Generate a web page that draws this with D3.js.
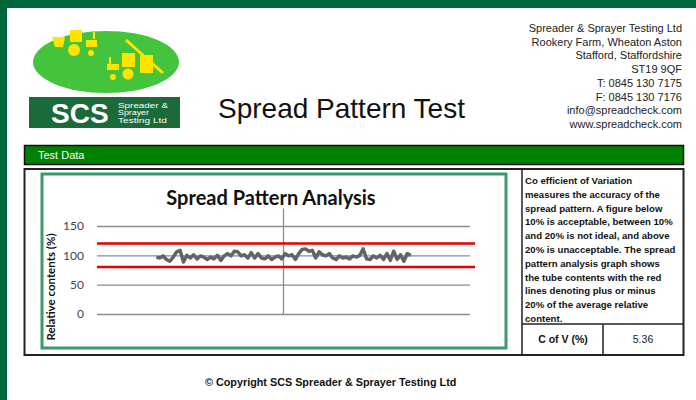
<!DOCTYPE html>
<html>
<head>
<meta charset="utf-8">
<script src="https://cdn.jsdelivr.net/npm/d3@7"></script>
<style>
  body { margin: 0; background: #fff; }
  svg { display: block; }
</style>
</head>
<body>
<svg width="696" height="400"></svg>
<script>
// relative tube contents (%), left to right
var contents = [97, 95.5, 99, 93, 90, 97, 106, 108.5, 88.6, 100, 95.5, 101, 94, 99, 97, 93, 97, 94, 100, 91.5,
  99, 103, 99, 107, 106, 99, 101, 95.5, 104.5, 95.5, 103, 95.5, 94, 99, 93, 97,
  99, 94, 103, 99, 101, 93, 103, 110, 111, 107, 108.5, 95.5, 106, 101, 99, 103, 95.5, 93, 99, 95.5,
  97, 94, 99, 97, 100, 111, 94, 93, 99, 95.5, 100, 93, 103, 91.5, 107, 93, 101, 90, 103, 100];
var yTicks = [0, 50, 100, 150];
var limits = [80, 120];   // +/- 20% of average
var xExtent = [-55, 55];
var yExtent = [0, 180];

var address = ["Spreader & Sprayer Testing Ltd", "Rookery Farm, Wheaton Aston", "Stafford, Staffordshire",
  "ST19 9QF", "T: 0845 130 7175", "F: 0845 130 7176", "info@spreadcheck.com", "www.spreadcheck.com"];
var note = ["Co efficient of Variation", "measures the accuracy of the", "spread pattern. A figure below",
  "10% is acceptable, between 10%", "and 20% is not ideal, and above", "20% is unacceptable. The spread",
  "pattern analysis graph shows", "the tube contents with the red", "lines denoting plus or minus",
  "20% of the average relative", "content."];
var cov = 5.36;

var svg = d3.select("svg");
var darkGreen = "#00663a", yellow = "#ffe400";

// page frame
svg.append("rect").attr("x", 0).attr("y", 0).attr("width", 696).attr("height", 8).attr("fill", darkGreen);
svg.append("rect").attr("x", 0).attr("y", 0).attr("width", 7).attr("height", 400).attr("fill", darkGreen);

// logo
var logo = svg.append("g");
logo.append("ellipse").attr("cx", 106).attr("cy", 62).attr("rx", 73).attr("ry", 31).attr("fill", "#44c43c");
logo.append("polygon").attr("points", "52,37 65,37 63,47 55,47").attr("fill", yellow);
logo.append("rect").attr("x", 70).attr("y", 30).attr("width", 12).attr("height", 12).attr("fill", yellow);
logo.append("circle").attr("cx", 74).attr("cy", 50).attr("r", 6).attr("fill", yellow);
logo.append("rect").attr("x", 93).attr("y", 32).attr("width", 2).attr("height", 7).attr("fill", yellow);
logo.append("rect").attr("x", 86).attr("y", 40).attr("width", 11).attr("height", 7).attr("fill", yellow);
logo.append("circle").attr("cx", 91).attr("cy", 53).attr("r", 3).attr("fill", yellow);
logo.append("line").attr("x1", 126).attr("y1", 40).attr("x2", 163).attr("y2", 73)
  .attr("stroke", yellow).attr("stroke-width", 3);
logo.append("rect").attr("x", 122).attr("y", 53).attr("width", 13).attr("height", 14).attr("fill", yellow);
logo.append("rect").attr("x", 140).attr("y", 55).attr("width", 13).attr("height", 18).attr("fill", yellow);
logo.append("rect").attr("x", 109).attr("y", 57).attr("width", 2).attr("height", 7).attr("fill", yellow);
logo.append("rect").attr("x", 107).attr("y", 64).attr("width", 12).attr("height", 6).attr("fill", yellow);
logo.append("circle").attr("cx", 113).attr("cy", 77).attr("r", 3).attr("fill", yellow);
logo.append("circle").attr("cx", 128).attr("cy", 74).attr("r", 5.5).attr("fill", yellow);

logo.append("rect").attr("x", 29).attr("y", 97).attr("width", 151).attr("height", 31).attr("fill", "#1b6b3a");
logo.append("text").attr("x", 51).attr("y", 123).text("SCS")
  .attr("font-family", "Liberation Sans, Arial, sans-serif").attr("font-weight", "bold")
  .attr("font-size", 28).attr("fill", "#fff");
var smallWidths = [50, 31, 49];
logo.selectAll(".small").data(["Spreader &", "Sprayer", "Testing Ltd"]).enter().append("text")
  .attr("x", 118).attr("y", function(d, i) { return 107.5 + i * 7.6; }).text(function(d) { return d; })
  .attr("textLength", function(d, i) { return smallWidths[i]; }).attr("lengthAdjust", "spacingAndGlyphs")
  .attr("font-family", "Liberation Sans, Arial, sans-serif").attr("font-size", 7.8).attr("fill", "#fff");

// heading
svg.append("text").attr("x", 218).attr("y", 118).text("Spread Pattern Test")
  .attr("font-family", "Liberation Sans, Arial, sans-serif").attr("font-size", 28).attr("fill", "#111");

svg.selectAll(".addr").data(address).enter().append("text")
  .attr("x", 682).attr("y", function(d, i) { return 32 + i * 13.7; })
  .attr("text-anchor", "end").text(function(d) { return d; })
  .attr("font-family", "Liberation Sans, Arial, sans-serif").attr("font-size", 11).attr("fill", "#222");

// test data bar
svg.append("rect").attr("x", 24.5).attr("y", 145.5).attr("width", 659).attr("height", 19)
  .attr("fill", "#008000").attr("stroke", "#111").attr("stroke-width", 1.5);
svg.append("text").attr("x", 38).attr("y", 159).text("Test Data")
  .attr("font-family", "Liberation Sans, Arial, sans-serif").attr("font-size", 11).attr("fill", "#fff");

// main box and right-hand table
svg.append("rect").attr("x", 24.5).attr("y", 169).attr("width", 659).attr("height", 186)
  .attr("fill", "none").attr("stroke", "#222").attr("stroke-width", 2);
svg.append("line").attr("x1", 522).attr("x2", 522).attr("y1", 169).attr("y2", 355).attr("stroke", "#222").attr("stroke-width", 1.5);
svg.append("line").attr("x1", 522).attr("x2", 684).attr("y1", 324).attr("y2", 324).attr("stroke", "#222").attr("stroke-width", 1.5);
svg.append("line").attr("x1", 603).attr("x2", 603).attr("y1", 324).attr("y2", 355).attr("stroke", "#222").attr("stroke-width", 1.5);

svg.selectAll(".note").data(note).enter().append("text")
  .attr("x", 525).attr("y", function(d, i) { return 184 + i * 13.8; }).text(function(d) { return d; })
  .attr("font-family", "Liberation Sans, Arial, sans-serif").attr("font-weight", "bold")
  .attr("font-size", 9.6).attr("fill", "#111");
svg.append("text").attr("x", 563).attr("y", 343).attr("text-anchor", "middle").text("C of V (%)")
  .attr("font-family", "Liberation Sans, Arial, sans-serif").attr("font-weight", "bold")
  .attr("font-size", 10.5).attr("fill", "#111");
svg.append("text").attr("x", 643).attr("y", 343).attr("text-anchor", "middle").text(cov.toFixed(2))
  .attr("font-family", "Liberation Sans, Arial, sans-serif").attr("font-size", 10.5).attr("fill", "#222");

// chart
svg.append("rect").attr("x", 42).attr("y", 174).attr("width", 464).attr("height", 174)
  .attr("fill", "#fff").attr("stroke", "#3a9a6a").attr("stroke-width", 3);
svg.append("text").attr("x", 271).attr("y", 205).attr("text-anchor", "middle").text("Spread Pattern Analysis")
  .attr("font-family", "Lato, sans-serif").attr("font-weight", "bold").attr("font-size", 20).attr("fill", "#111");

var x = d3.scaleLinear().domain(xExtent).range([97, 470]);
var y = d3.scaleLinear().domain(yExtent).range([314, 208.4]);

var yAxis = svg.append("g").attr("transform", "translate(97,0)")
  .call(d3.axisLeft(y).tickValues(yTicks).tickSize(-373).tickPadding(13));
yAxis.select(".domain").remove();
yAxis.selectAll(".tick line").attr("stroke", "#8c8c8c").attr("stroke-width", 1.3);
yAxis.selectAll(".tick text").attr("font-family", "Lato, sans-serif").attr("font-size", 12).attr("fill", "#444");

svg.append("line").attr("x1", x(0)).attr("x2", x(0)).attr("y1", y(yExtent[1])).attr("y2", y(0))
  .attr("stroke", "#8c8c8c").attr("stroke-width", 1.3);

svg.append("text").attr("transform", "translate(55,287) rotate(-90)").attr("text-anchor", "middle")
  .text("Relative contents (%)")
  .attr("font-family", "Lato, sans-serif").attr("font-weight", "bold").attr("font-size", 11.5).attr("fill", "#111");

svg.selectAll(".limit").data(limits).enter().append("line")
  .attr("x1", 97).attr("x2", 475).attr("y1", function(d) { return y(d); }).attr("y2", function(d) { return y(d); })
  .attr("stroke", "#e60000").attr("stroke-width", 2.5);

var half = (contents.length - 1) / 2;
var line = d3.line()
  .x(function(d, i) { return x(i - half); })
  .y(function(d) { return y(d); });
svg.append("path").datum(contents).attr("d", line)
  .attr("fill", "none").attr("stroke", "#646464").attr("stroke-width", 3.5).attr("stroke-linejoin", "round");

// footer
svg.append("text").attr("x", 205).attr("y", 386).text("\u00a9 Copyright SCS Spreader & Sprayer Testing Ltd")
  .attr("font-family", "Liberation Sans, Arial, sans-serif").attr("font-weight", "bold")
  .attr("font-size", 10.8).attr("fill", "#111");
</script>
</body>
</html>
